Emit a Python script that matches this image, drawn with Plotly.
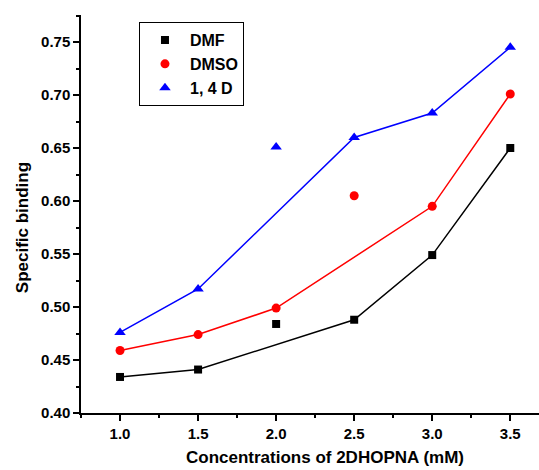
import plotly.graph_objects as go

conc = [1.0, 1.5, 2.0, 2.5, 3.0, 3.5]
dmf = [0.434, 0.441, 0.484, 0.488, 0.549, 0.650]
dmso = [0.459, 0.474, 0.499, 0.605, 0.595, 0.701]
d14 = [0.476, 0.517, 0.651, 0.660, 0.683, 0.745]
# indices of points excluded from the connecting curve
dmf_skip = [2]
dmso_skip = [3]
d14_skip = [2]
x_ticks = ["1.0", "1.5", "2.0", "2.5", "3.0", "3.5"]

series = [
    ("DMF", dmf, dmf_skip, "#000000", "square", 8),
    ("DMSO", dmso, dmso_skip, "#ff0000", "circle", 9),
    ("1, 4 D", d14, d14_skip, "#0000ff", "triangle-up", 10),
]

fig = go.Figure()
for name, ys, skip, col, sym, sz in series:
    line_y = [None if i in skip else v for i, v in enumerate(ys)]
    fig.add_trace(go.Scatter(x=conc, y=line_y, mode="lines", connectgaps=True,
                             line=dict(color=col, width=1.5), showlegend=False,
                             hoverinfo="skip"))
for name, ys, skip, col, sym, sz in series:
    fig.add_trace(go.Scatter(x=conc, y=ys, mode="markers", name=name,
                             marker=dict(color=col, symbol=sym, size=sz)))

font_family = "Liberation Sans, Arial, sans-serif"
fig.update_layout(
    width=539, height=470,
    margin=dict(l=81, r=0, t=15, b=57),
    plot_bgcolor="white", paper_bgcolor="white",
    font=dict(family=font_family, color="black"),
    legend=dict(x=0.1266, y=0.982, xanchor="left", yanchor="top",
                bordercolor="black", borderwidth=1, bgcolor="white",
                font=dict(size=16, family=font_family, weight="bold"),
                itemwidth=40, tracegroupgap=0),
)
fig.update_xaxes(
    range=[0.75, 3.684], tickvals=conc, ticktext=x_ticks,
    showgrid=False, zeroline=False, showline=True, linecolor="black", linewidth=1.5,
    ticks="outside", ticklen=6, tickwidth=1.5, tickcolor="black",
    minor=dict(dtick=0.25, tick0=0.75, ticks="outside", ticklen=3, tickwidth=1.5, tickcolor="black", showgrid=False),
    tickfont=dict(size=15, weight="bold"),
)
fig.update_yaxes(
    range=[0.40, 0.7755], tick0=0.40, dtick=0.05, tickformat=".2f",
    showgrid=False, zeroline=False, showline=True, linecolor="black", linewidth=1.5,
    ticks="outside", ticklen=6, tickwidth=1.5, tickcolor="black",
    minor=dict(dtick=0.025, tick0=0.40, ticks="outside", ticklen=3, tickwidth=1.5, tickcolor="black", showgrid=False),
    tickfont=dict(size=15, weight="bold"),
)
fig.add_annotation(text="Concentrations of 2DHOPNA (mM)", xref="paper", yref="paper",
                   x=0.533, y=-0.111, xanchor="center", yanchor="middle", showarrow=False,
                   font=dict(size=17, weight="bold", family=font_family))
fig.add_annotation(text="Specific binding", xref="paper", yref="paper",
                   x=-0.1288, y=0.4644, xanchor="center", yanchor="middle", showarrow=False,
                   textangle=-90, font=dict(size=17, weight="bold", family=font_family))
fig.write_html("out.html")
